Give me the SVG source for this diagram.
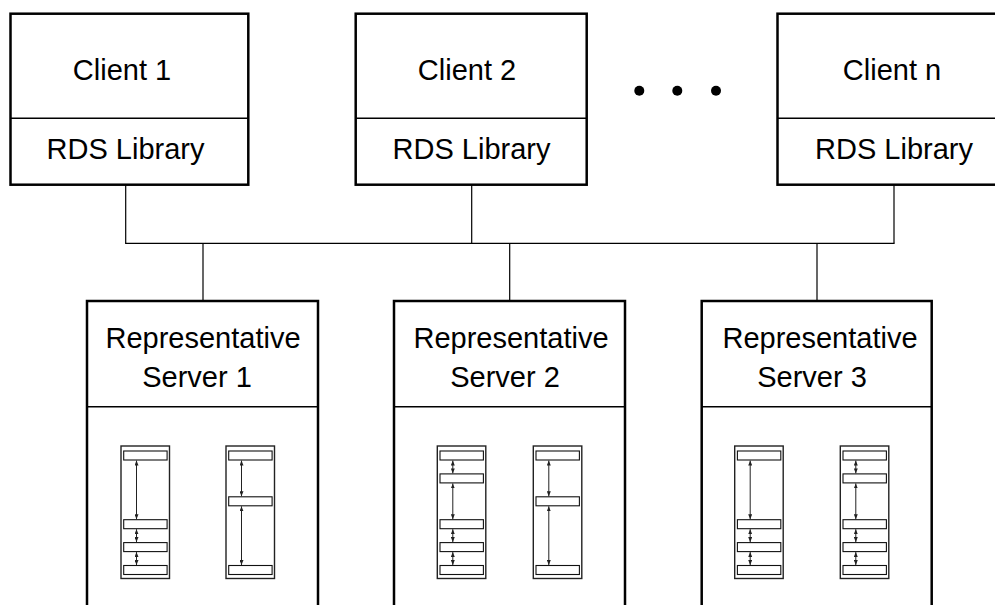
<svg xmlns="http://www.w3.org/2000/svg" width="995" height="605" viewBox="0 0 995 605">
<style>
.box{fill:#fff;stroke:#000;stroke-width:2.5}
.div{stroke:#000;stroke-width:1.5;fill:none}
.wire{stroke:#000;stroke-width:1.2;fill:none}
.lbl{font-family:"Liberation Sans",Arial,sans-serif;font-size:29px;fill:#000;text-anchor:middle}
.stk{fill:#fff;stroke:#222;stroke-width:1.4}
.bar{fill:#fff;stroke:#111;stroke-width:1.1}
.arr{stroke:#222;stroke-width:1;fill:none;marker-start:url(#ah);marker-end:url(#ah)}
</style>
<defs>
<marker id="ah" markerUnits="userSpaceOnUse" markerWidth="5" markerHeight="4" refX="5" refY="2" orient="auto-start-reverse"><path d="M0,0 L5,2 L0,4 z" fill="#222"/></marker>
<g id="barL1"><!-- slots 0,3,4,5 -->
<rect class="stk" x="0" y="0" width="48.5" height="132.5"/>
<rect class="bar" x="2.7" y="5" width="43.4" height="9"/>
<rect class="bar" x="2.7" y="73.7" width="43.4" height="9"/>
<rect class="bar" x="2.7" y="96.6" width="43.4" height="9"/>
<rect class="bar" x="2.7" y="119.5" width="43.4" height="9"/>
<line class="arr" x1="15.5" y1="14.5" x2="15.5" y2="73.2"/>
<line class="arr" x1="15.5" y1="83.2" x2="15.5" y2="96.1"/>
<line class="arr" x1="15.5" y1="106.1" x2="15.5" y2="119"/>
</g>
<g id="barR1"><!-- slots 0,2,5 -->
<rect class="stk" x="0" y="0" width="48.5" height="132.5"/>
<rect class="bar" x="2.7" y="5" width="43.4" height="9"/>
<rect class="bar" x="2.7" y="50.8" width="43.4" height="9"/>
<rect class="bar" x="2.7" y="119.5" width="43.4" height="9"/>
<line class="arr" x1="15.5" y1="14.5" x2="15.5" y2="50.3"/>
<line class="arr" x1="15.5" y1="60.3" x2="15.5" y2="119"/>
</g>
<g id="barL2"><!-- slots 0,1,3,4,5 -->
<rect class="stk" x="0" y="0" width="48.5" height="132.5"/>
<rect class="bar" x="2.7" y="5" width="43.4" height="9"/>
<rect class="bar" x="2.7" y="27.9" width="43.4" height="9"/>
<rect class="bar" x="2.7" y="73.7" width="43.4" height="9"/>
<rect class="bar" x="2.7" y="96.6" width="43.4" height="9"/>
<rect class="bar" x="2.7" y="119.5" width="43.4" height="9"/>
<line class="arr" x1="15.5" y1="14.5" x2="15.5" y2="27.4"/>
<line class="arr" x1="15.5" y1="37.4" x2="15.5" y2="73.2"/>
<line class="arr" x1="15.5" y1="83.2" x2="15.5" y2="96.1"/>
<line class="arr" x1="15.5" y1="106.1" x2="15.5" y2="119"/>
</g>
</defs>

<g id="connectors">
<line class="wire" x1="125.7" y1="185" x2="125.7" y2="243.3"/>
<line class="wire" x1="471.7" y1="185" x2="471.7" y2="243.3"/>
<line class="wire" x1="894" y1="185" x2="894" y2="243.3"/>
<line class="wire" x1="125.1" y1="243.3" x2="894.6" y2="243.3"/>
<line class="wire" x1="203" y1="243.3" x2="203" y2="301"/>
<line class="wire" x1="509.7" y1="243.3" x2="509.7" y2="301"/>
<line class="wire" x1="817" y1="243.3" x2="817" y2="301"/>
</g>

<g id="client1">
<rect class="box" x="10.5" y="13.7" width="237.8" height="171"/>
<line class="div" x1="10.5" y1="118.3" x2="248.3" y2="118.3"/>
<text class="lbl" x="122" y="80">Client 1</text>
<text class="lbl" x="125.5" y="159.3">RDS Library</text>
</g>
<g id="client2">
<rect class="box" x="355.7" y="13.7" width="231" height="171"/>
<line class="div" x1="355.7" y1="118.3" x2="586.7" y2="118.3"/>
<text class="lbl" x="467" y="80">Client 2</text>
<text class="lbl" x="471.5" y="159.3">RDS Library</text>
</g>
<g id="dots">
<circle cx="639.3" cy="90.7" r="5"/>
<circle cx="677.3" cy="90.7" r="5"/>
<circle cx="716" cy="90.7" r="5"/>
</g>
<g id="clientn">
<rect class="box" x="777.5" y="13.7" width="240" height="171"/>
<line class="div" x1="777.5" y1="118.3" x2="1017" y2="118.3"/>
<text class="lbl" x="892" y="80">Client n</text>
<text class="lbl" x="894" y="159.3">RDS Library</text>
</g>

<g id="server1">
<rect class="box" x="87" y="301" width="231" height="330"/>
<line class="div" x1="87" y1="406.7" x2="318" y2="406.7"/>
<text class="lbl" x="203" y="348.3">Representative</text>
<text class="lbl" x="197" y="387.3">Server 1</text>
<use href="#barL1" x="121" y="446"/>
<use href="#barR1" x="226" y="446"/>
</g>
<g id="server2">
<rect class="box" x="394" y="301" width="231" height="330"/>
<line class="div" x1="394" y1="406.7" x2="625" y2="406.7"/>
<text class="lbl" x="511" y="348.3">Representative</text>
<text class="lbl" x="505" y="387.3">Server 2</text>
<use href="#barL2" x="437.3" y="446"/>
<use href="#barR1" x="533.3" y="446"/>
</g>
<g id="server3">
<rect class="box" x="701.7" y="301" width="230" height="330"/>
<line class="div" x1="701.7" y1="406.7" x2="931.7" y2="406.7"/>
<text class="lbl" x="820" y="348.3">Representative</text>
<text class="lbl" x="812" y="387.3">Server 3</text>
<use href="#barL1" x="734.7" y="446"/>
<use href="#barL2" x="840.3" y="446"/>
</g>
</svg>
